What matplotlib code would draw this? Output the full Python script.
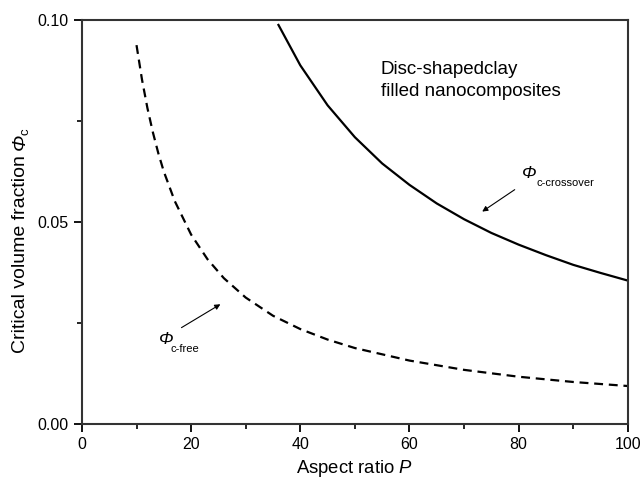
import matplotlib
matplotlib.use("Agg")
import matplotlib.pyplot as plt
from matplotlib.ticker import MultipleLocator

plt.rcParams['font.family'] = ['Liberation Sans', 'DejaVu Sans']
plt.rcParams['mathtext.fontset'] = 'custom'
plt.rcParams['mathtext.rm'] = 'Liberation Sans'
plt.rcParams['mathtext.it'] = 'Liberation Sans:italic'

# crossover curve (solid)
p_cross = [36, 40, 45, 50, 55, 60, 65, 70, 75, 80, 85, 90, 95, 100]
phi_cross = [0.0988, 0.0888, 0.0789, 0.0710, 0.0645, 0.0592, 0.0546,
             0.0507, 0.0473, 0.0444, 0.0418, 0.0394, 0.0374, 0.0355]

# free curve (dashed)
p_free = [10, 11, 12, 13, 14, 15, 17, 20, 23, 26, 30, 35, 40, 45, 50,
          60, 70, 80, 90, 100]
phi_free = [0.0938, 0.0853, 0.0782, 0.0722, 0.0670, 0.0625, 0.0552,
            0.0469, 0.0408, 0.0361, 0.0313, 0.0268, 0.0235, 0.0209,
            0.0188, 0.0157, 0.0134, 0.0117, 0.0104, 0.0094]

x_ticks = [0, 20, 40, 60, 80, 100]
y_ticks = [0.00, 0.05, 0.10]

fig = plt.figure(figsize=(6.4, 4.78), dpi=100)
ax = fig.add_axes([0.128, 0.113, 0.853, 0.845])

ax.plot(p_cross, phi_cross, color='black', lw=1.6)
ax.plot(p_free, phi_free, color='black', lw=1.6, linestyle=(0, (4, 2.6)))

ax.set_xlim(0, 100)
ax.set_ylim(0, 0.10)
ax.set_xticks(x_ticks)
ax.set_yticks(y_ticks)
ax.set_yticklabels(['%.2f' % v for v in y_ticks])
ax.xaxis.set_minor_locator(MultipleLocator(10))
ax.yaxis.set_minor_locator(MultipleLocator(0.025))
ax.tick_params(which='major', direction='out', length=6, width=1.3, labelsize=11.5)
ax.tick_params(which='minor', direction='out', length=3.5, width=1.2)
for s in ax.spines.values():
    s.set_linewidth(1.5)
    s.set_color('#333333')

ax.set_xlabel('Aspect ratio $\\mathit{P}$', fontsize=13.3, labelpad=4)

# y label: plain part, then italic Phi with subscript c
ylab = ax.text(-0.112, 0.176, 'Critical volume fraction ', fontsize=14,
               rotation=90, ha='center', va='bottom', transform=ax.transAxes)
yphi = ax.annotate('Φ', xy=(0.5, 1.0), xycoords=ylab, fontsize=14,
                   style='italic', rotation=90, ha='center', va='bottom')
ax.annotate('c', xy=(0.8, 1.0), xycoords=yphi, xytext=(0, -1),
            textcoords='offset points', fontsize=9.5, rotation=90,
            ha='center', va='bottom')

ax.text(54.7, 0.0851, 'Disc-shapedclay\nfilled nanocomposites', fontsize=13.5,
        ha='left', va='center', linespacing=1.35)

# crossover label + arrow
ax.text(80.6, 0.0621, 'Φ', fontsize=12.5, style='italic', ha='left', va='center')
ax.text(83.2, 0.0597, 'c-crossover', fontsize=8, ha='left', va='center')
ax.annotate('', xy=(72.9, 0.0522), xytext=(79.7, 0.0584),
            arrowprops=dict(arrowstyle='-|>', color='black', lw=0.8,
                            mutation_scale=8))

# free label + arrow
ax.text(14.1, 0.0210, 'Φ', fontsize=12.5, style='italic', ha='left', va='center')
ax.text(16.3, 0.0186, 'c-free', fontsize=8, ha='left', va='center')
ax.annotate('', xy=(25.8, 0.0300), xytext=(17.8, 0.0235),
            arrowprops=dict(arrowstyle='-|>', color='black', lw=0.8,
                            mutation_scale=8))

fig.savefig('out.png', dpi=100)
